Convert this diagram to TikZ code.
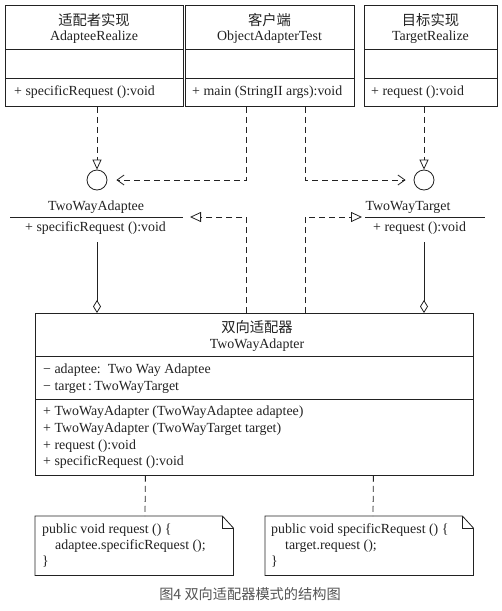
\documentclass[tikz,border=0pt]{standalone}
\usepackage{fontspec}
\setmainfont{Liberation Serif}
\newfontfamily\cjk{Noto Sans CJK SC}
\usetikzlibrary{arrows.meta}
\definecolor{ink}{HTML}{222222}
\definecolor{capgray}{HTML}{555555}
\tikzset{
  umlbox/.style={draw=ink, line width=0.8pt, minimum width=#1, inner sep=0pt, anchor=north west},
  txt/.style={inner sep=0pt, anchor=base, font=\fontsize{13.9pt}{16pt}\selectfont, text=ink},
  ltxt/.style={txt, anchor=base west},
  cn/.style={inner sep=0pt, anchor=base, font=\cjk\fontsize{14.3pt}{16pt}\selectfont, text=ink},
  iface/.style={circle, draw=ink, line width=0.8pt, minimum size=20pt, inner sep=0pt},
  dep/.style={draw=ink, line width=0.8pt, dash pattern=on 6pt off 4pt},
  realize/.style={dep, -{Triangle[open, length=10pt, width=9pt]}},
  general/.style={dep, -{Triangle[open, length=11pt, width=10pt]}},
  uses/.style={dep, -{Straight Barb[length=7pt, width=10pt]}},
  aggr/.style={draw=ink, line width=0.8pt, -{Diamond[open, length=13pt, width=8pt]}},
  plain/.style={draw=ink, line width=0.8pt},
}
\begin{document}
\begin{tikzpicture}[x=1pt, y=-1pt]
\useasboundingbox (0,0) rectangle (502,611);
\fill[white] (0,0) rectangle (502,611);

% ---- top classes ----
\node[umlbox=178pt, minimum height=101pt] (A) at (5,5) {};
\draw[plain] (5,49) -- (183,49);
\draw[plain] (5,78) -- (183,78);
\node[cn] (Acn) at (94,25.5) {适配者实现};
\node[txt] (Aen) at (94,40.5) {AdapteeRealize};
\node[ltxt] (Am) at (14,95) {+ specificRequest ():void};

\node[umlbox=169pt, minimum height=101pt] (B) at (185,5) {};
\draw[plain] (185,49) -- (354,49);
\draw[plain] (185,78) -- (354,78);
\node[cn] (Bcn) at (269.5,25.5) {客户端};
\node[txt] (Ben) at (269.5,40.5) {ObjectAdapterTest};
\node[ltxt] (Bm) at (192,95) {+ main (StringII args):void};

\node[umlbox=133pt, minimum height=101pt] (C) at (364,5) {};
\draw[plain] (364,49) -- (497,49);
\draw[plain] (364,78) -- (497,78);
\node[cn] (Ccn) at (430.5,25.5) {目标实现};
\node[txt] (Cen) at (430.5,40.5) {TargetRealize};
\node[ltxt] (Cm) at (371,95) {+ request ():void};

% ---- interfaces (lollipops) ----
\node[iface] (ia) at (97,180) {};
\node[iface] (it) at (424,180) {};

\draw[realize] (A.south -| ia) -- (ia.north);
\draw[realize] (C.south -| it) -- (it.north);

\coordinate (bl) at ([xshift=-23.5pt]B.south);
\coordinate (br) at ([xshift=35.5pt]B.south);
\draw[uses, shorten >=9pt] (bl) |- (ia.east);
\draw[uses, shorten >=8pt] (br) |- (it.west);

% ---- interface labels ----
\node[txt] (ta) at (96,210) {TwoWayAdaptee};
\coordinate (taW) at (10,217);
\coordinate (taE) at (183,217);
\draw[plain] (taW) -- (taE);
\node[ltxt] (tam) at (25,231.5) {+ specificRequest ():void};

\node[txt] (tt) at (408,210) {TwoWayTarget};
\coordinate (ttW) at (365,217);
\coordinate (ttE) at (485,217);
\draw[plain] (ttW) -- (ttE);
\node[ltxt] (ttm) at (373,231.5) {+ request ():void};

% ---- adapter ----
\node[umlbox=438pt, minimum height=162pt] (D) at (35,313) {};
\draw[plain] (35,356) -- (473,356);
\draw[plain] (35,399) -- (473,399);
\node[cn] (Dcn) at (257,332) {双向适配器};
\node[txt] (Den) at (257,348) {TwoWayAdapter};
\node[ltxt] (Da1) at (43,373) {− adaptee:\ \ Two Way Adaptee};
\node[ltxt] (Da2) at (43,390) {− target\,:\,TwoWayTarget};
\node[ltxt] (Dm1) at (43,415.5) {+ TwoWayAdapter (TwoWayAdaptee adaptee)};
\node[ltxt] (Dm2) at (43,432) {+ TwoWayAdapter (TwoWayTarget target)};
\node[ltxt] (Dm3) at (43,449) {+ request ():void};
\node[ltxt] (Dm4) at (43,465.5) {+ specificRequest ():void};

% generalization to interfaces
\draw[general, shorten >=7pt] ([xshift=-8pt]D.north) |- (taE);
\draw[general, shorten >=3pt] ([xshift=51pt]D.north) |- (ttW);

% aggregation
\coordinate (aS) at (97,242);
\coordinate (tS) at (424,242);
\draw[aggr] (aS) -- (D.north -| aS);
\draw[aggr] (tS) -- (D.north -| tS);

% ---- notes ----
\node[inner sep=0pt, minimum width=198pt, minimum height=59pt, anchor=north west] (N1) at (35,516) {};
\draw[plain] (N1.south west) -- (N1.north west) -- ([xshift=-11pt]N1.north east) -- ([yshift=-12pt]N1.north east) -- (N1.south east) -- cycle;
\draw[plain] ([xshift=-11pt]N1.north east) -- ([xshift=-11pt,yshift=-12pt]N1.north east) -- ([yshift=-12pt]N1.north east);
\node[ltxt] (n11) at (42,533) {public void request () \{};
\node[ltxt] (n12) at (55,549) {adaptee.specificRequest ();};
\node[ltxt] (n13) at (42,565) {\}};

\node[inner sep=0pt, minimum width=208pt, minimum height=59pt, anchor=north west] (N2) at (265,516) {};
\draw[plain] (N2.south west) -- (N2.north west) -- ([xshift=-11pt]N2.north east) -- ([yshift=-12pt]N2.north east) -- (N2.south east) -- cycle;
\draw[plain] ([xshift=-11pt]N2.north east) -- ([xshift=-11pt,yshift=-12pt]N2.north east) -- ([yshift=-12pt]N2.north east);
\node[ltxt] (n21) at (271,533) {public void specificRequest () \{};
\node[ltxt] (n22) at (285,549) {target.request ();};
\node[ltxt] (n23) at (271,565) {\}};

\draw[dep] ([xshift=-109pt]D.south) -- (N1.north -| 145,0);
\draw[dep] ([xshift=119pt]D.south) -- (N2.north -| 373,0);

% ---- caption ----
\node[inner sep=0pt, anchor=base, font=\cjk\fontsize{14.2pt}{16pt}\selectfont, text=capgray] (cap) at (250,599.5) {图4 双向适配器模式的结构图};
\end{tikzpicture}
\end{document}
